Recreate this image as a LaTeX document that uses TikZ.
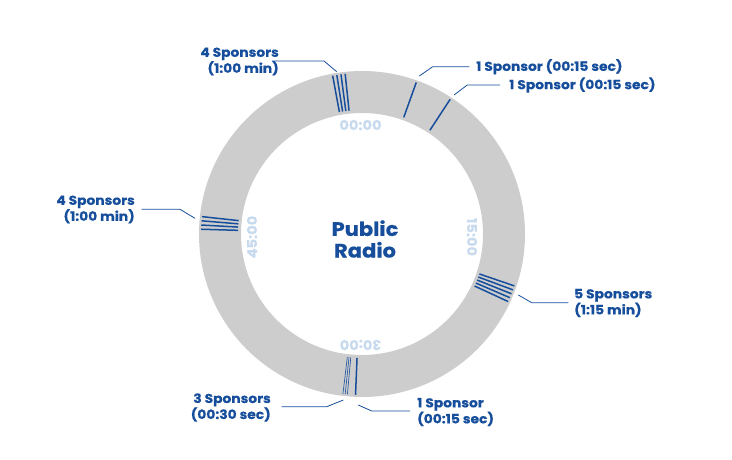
\documentclass[tikz,border=0pt]{standalone}
\usepackage{fontspec}
\setmainfont{Poppins}[FakeStretch=1.08,BoldFeatures={FakeBold=0.4}]
\usetikzlibrary{calc}
\definecolor{ringgray}{RGB}{205,205,205}
\definecolor{sblue}{RGB}{22,78,156}
\definecolor{lblue}{RGB}{200,218,238}
\begin{document}
\begin{tikzpicture}[x=1pt,y=-1pt,
  spl/.style={sblue,line width=1.5pt},
  thinspl/.style={sblue,line width=0.6pt},
  leader/.style={sblue,line width=0.8pt},
  lab/.style={text=sblue,font=\fontsize{12.8}{16}\selectfont\bfseries,inner sep=0pt},
  clk/.style={text=lblue,font=\fontsize{13.5}{15}\selectfont\bfseries,inner sep=0pt}]
\useasboundingbox (0,0) rectangle (732,459);
\coordinate (C) at (362,234);
\fill[ringgray,even odd rule] (C) circle (163pt) (C) circle (121pt);
% clock labels
\node[clk] (t00) at (360.5,125) {00:00};
\node[clk,rotate=-90] (t15) at (472,237) {15:00};
\node[clk,rotate=180] (t30) at (360.5,345) {30:00};
\node[clk,rotate=90] (t45) at (252,237) {45:00};
% center
\node[text=sblue,font=\fontsize{19.5}{21.6}\selectfont\bfseries,align=center,inner sep=0pt] (title) at (365,239) {Public\\Radio};
% sponsor lines
\foreach \a in {96,97.5,99,100.5}
  \draw[spl] ([shift={(\a:124pt)}]C) -- ([shift={(\a:161pt)}]C);
\foreach \a in {70.3,56.8}
  \draw[spl] ([shift={(\a:124pt)}]C) -- ([shift={(\a:161pt)}]C);
\foreach \a in {173.8,175.3,176.8,178.3}
  \draw[spl] ([shift={(\a:124pt)}]C) -- ([shift={(\a:161pt)}]C);
\foreach \a in {-18.8,-20.3,-21.8,-23.3,-24.8}
  \draw[spl] ([shift={(\a:124pt)}]C) -- ([shift={(\a:161pt)}]C);
\foreach \a in {-95.2,-96,-96.8}
  \draw[thinspl] ([shift={(\a:124pt)}]C) -- ([shift={(\a:161pt)}]C);
\draw[spl] ([shift={(-92.3:124pt)}]C) -- ([shift={(-92.3:161pt)}]C);
% labels
\node[lab,align=right,anchor=east] (L1) at (279,61.5) {4 Sponsors\\(1:00 min)};
\node[lab,anchor=west] (L2) at (476,66.7) {1 Sponsor (00:15 sec)};
\node[lab,anchor=west] (L3) at (509,85) {1 Sponsor (00:15 sec)};
\node[lab,align=right,anchor=east] (L4) at (135,209.5) {4 Sponsors\\(1:00 min)};
\node[lab,align=left,anchor=west] (L5) at (574,303) {5 Sponsors\\(1:15 min)};
\node[lab,align=right,anchor=east] (L6) at (271,407.5) {3 Sponsors\\(00:30 sec)};
\node[lab,align=left,anchor=west] (L7) at (417,412) {1 Sponsor\\(00:15 sec)};
% leader start points
\coordinate (p1) at (336.7,71.7);
\coordinate (p2) at (419.3,76);
\coordinate (p3) at (454,95);
\coordinate (p4) at (195,218.3);
\coordinate (p5) at (518.3,295);
\coordinate (p6) at (343.3,400);
\coordinate (p7) at (358.3,405);
\draw[leader] (p1) -- (324,61) -- ([xshift=-7pt]L1.east |- 0,61) ;
\draw[leader] (p2) -- (432.7,66.7) -- (469.3,66.7);
\draw[leader] (p3) -- (467.3,85) -- (500,85);
\draw[leader] (p4) -- (180,209.3) -- (141.7,209.3);
\draw[leader] (p5) -- (531.7,302.7) -- (568.3,302.7);
\draw[leader] (p6) -- (326.7,406.7) -- (281.7,406.7);
\draw[leader] (p7) -- (371.7,411) -- (410,411);
\end{tikzpicture}
\end{document}
